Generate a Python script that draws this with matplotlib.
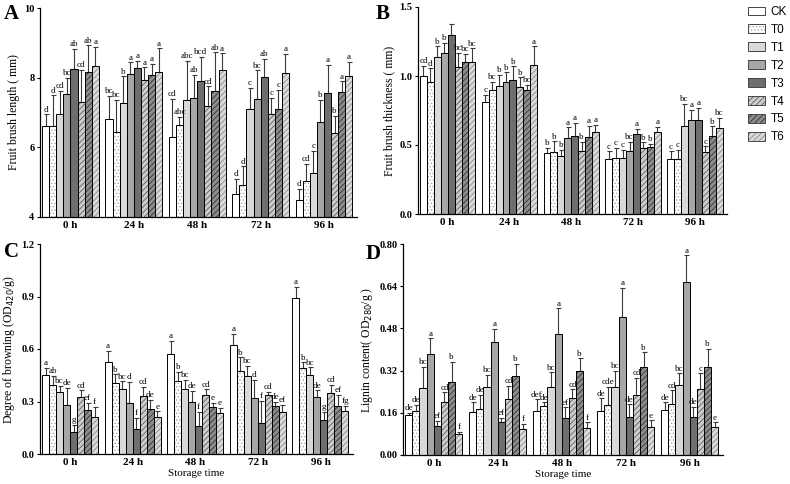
import numpy as np
import matplotlib
matplotlib.use('Agg')
from matplotlib import pyplot as plt
from matplotlib.patches import Patch

plt.rcParams['font.family'] = ['Liberation Serif', 'DejaVu Serif']
plt.rcParams['hatch.linewidth'] = 0.5

########################################
# DATA
########################################

times = ['0 h', '24 h', '48 h', '72 h', '96 h']
treatments = ['CK', 'T0', 'T1', 'T2', 'T3', 'T4', 'T5', 'T6']

# A: fruit brush length (mm), rows = storage time, cols = treatment
a_mean = [[6.61, 6.60, 6.97, 7.54, 8.26, 7.31, 8.16, 8.34],
          [6.80, 6.45, 7.27, 8.10, 8.29, 7.94, 8.08, 8.15],
          [6.31, 6.63, 7.37, 7.42, 7.90, 7.18, 7.61, 8.21],
          [4.67, 4.92, 7.09, 7.40, 8.02, 6.97, 7.09, 8.12],
          [4.49, 5.03, 5.26, 6.73, 7.57, 6.40, 7.60, 8.06]]
a_sd = [[0.34, 0.89, 0.66, 0.46, 0.56, 0.92, 0.77, 0.55],
        [0.67, 0.92, 0.77, 0.34, 0.20, 0.36, 0.31, 0.69],
        [1.08, 0.24, 1.12, 0.66, 0.70, 0.57, 1.12, 0.49],
        [0.43, 0.53, 0.62, 0.81, 0.52, 0.45, 0.57, 0.57],
        [0.32, 0.50, 0.64, 0.63, 0.79, 0.50, 0.29, 0.39]]
a_sig = [['d', 'd', 'cd', 'bc', 'ab', 'cd', 'ab', 'a'],
         ['bc', 'bc', 'b', 'a', 'a', 'a', 'a', 'a'],
         ['cd', 'abc', 'abc', 'ab', 'bcd', 'cd', 'ab', 'a'],
         ['d', 'd', 'c', 'bc', 'ab', 'c', 'c', 'a'],
         ['d', 'cd', 'c', 'b', 'a', 'b', 'a', 'a']]

# B: fruit brush thickness (mm)
b_mean = [[1.00, 0.96, 1.135, 1.165, 1.30, 1.067, 1.10, 1.10],
          [0.81, 0.90, 0.93, 0.957, 0.973, 0.92, 0.90, 1.077],
          [0.442, 0.447, 0.423, 0.55, 0.563, 0.454, 0.558, 0.592],
          [0.40, 0.406, 0.406, 0.454, 0.582, 0.478, 0.483, 0.594],
          [0.40, 0.40, 0.635, 0.684, 0.684, 0.447, 0.568, 0.626]]
b_sd = [[0.075, 0.095, 0.08, 0.075, 0.08, 0.10, 0.06, 0.10],
        [0.055, 0.06, 0.08, 0.07, 0.097, 0.07, 0.037, 0.138],
        [0.036, 0.08, 0.043, 0.078, 0.10, 0.068, 0.082, 0.053],
        [0.054, 0.072, 0.06, 0.068, 0.034, 0.041, 0.027, 0.036],
        [0.054, 0.066, 0.162, 0.072, 0.084, 0.043, 0.067, 0.07]]
b_sig = [['cd', 'd', 'b', 'b', '', 'bc', 'bc', 'bc'],
         ['c', 'bc', 'b', 'b', 'b', 'b', 'bc', 'a'],
         ['b', 'b', 'b', 'a', 'a', 'b', 'a', 'a'],
         ['c', 'c', 'c', 'bc', 'a', 'b', 'b', 'a'],
         ['c', 'c', 'bc', 'a', 'a', 'c', 'b', 'bc']]

# C: degree of browning (OD420/g)
c_mean = [[0.453, 0.396, 0.356, 0.278, 0.126, 0.323, 0.251, 0.213],
          [0.527, 0.405, 0.371, 0.291, 0.145, 0.329, 0.257, 0.213],
          [0.572, 0.417, 0.373, 0.299, 0.162, 0.339, 0.268, 0.234],
          [0.624, 0.472, 0.447, 0.321, 0.179, 0.337, 0.274, 0.238],
          [0.890, 0.490, 0.449, 0.323, 0.196, 0.348, 0.276, 0.247]]
c_sd = [[0.040, 0.051, 0.034, 0.102, 0.039, 0.040, 0.042, 0.055],
        [0.063, 0.051, 0.044, 0.122, 0.060, 0.055, 0.051, 0.030],
        [0.075, 0.051, 0.051, 0.062, 0.080, 0.030, 0.025, 0.030],
        [0.061, 0.081, 0.057, 0.103, 0.123, 0.017, 0.023, 0.043],
        [0.067, 0.033, 0.047, 0.040, 0.044, 0.048, 0.063, 0.029]]
c_sig = [['a', 'ab', 'bc', 'de', 'g', 'cd', 'ef', 'f'],
         ['a', 'b', 'bc', 'd', 'f', 'cd', 'de', 'e'],
         ['a', 'b', 'bc', 'de', 'f', 'cd', 'e', 'e'],
         ['a', 'b', 'bc', 'd', 'f', 'cd', 'de', 'ef'],
         ['a', 'b', 'bc', 'de', 'g', 'cd', 'ef', 'fg']]

# D: lignin content (OD280/g)
d_mean = [[0.152, 0.168, 0.253, 0.383, 0.110, 0.200, 0.278, 0.080],
          [0.162, 0.173, 0.257, 0.430, 0.126, 0.214, 0.300, 0.097],
          [0.167, 0.187, 0.259, 0.458, 0.142, 0.215, 0.319, 0.101],
          [0.167, 0.190, 0.259, 0.525, 0.143, 0.228, 0.332, 0.105],
          [0.169, 0.195, 0.267, 0.656, 0.145, 0.249, 0.334, 0.105]]
d_sd = [[0.008, 0.022, 0.082, 0.059, 0.019, 0.038, 0.076, 0.008],
        [0.038, 0.055, 0.046, 0.048, 0.016, 0.048, 0.045, 0.021],
        [0.044, 0.013, 0.054, 0.098, 0.039, 0.034, 0.048, 0.023],
        [0.048, 0.069, 0.060, 0.110, 0.049, 0.064, 0.057, 0.026],
        [0.031, 0.050, 0.043, 0.101, 0.038, 0.061, 0.068, 0.019]]
d_sig = [['de', 'de', 'bc', 'a', 'ef', 'cd', 'b', 'f'],
         ['de', 'de', 'bc', 'a', 'ef', 'cd', 'b', 'f'],
         ['def', 'de', 'bc', 'a', 'ef', 'cd', 'b', 'f'],
         ['de', 'cde', 'bc', 'a', 'de', 'cd', 'b', 'e'],
         ['de', 'cd', 'bc', 'a', 'de', 'c', 'b', 'e']]

# fill colour, hatch, hatch colour for each treatment
styles = [('white', '', 'black'),
          ('white', '.....', '#9a9a9a'),
          ('#d9d9d9', '', 'black'),
          ('#a6a6a6', '', 'black'),
          ('#6e6e6e', '', 'black'),
          ('#cccccc', '//////', '#4a4a4a'),
          ('#8c8c8c', '//////', '#222222'),
          ('#dadada', '//////', '#7a7a7a')]


def draw_panel(ax, mean, sd, sig, ylim, yticks, yfmt, ylabel, show_xlabel):
    mean = np.array(mean)
    sd = np.array(sd)
    x = np.arange(len(times))
    width = 0.112
    n = len(treatments)
    for j in range(n):
        fc, hatch, hc = styles[j]
        pos = x + (j - (n - 1) / 2) * width
        vals = mean[:, j]
        errs = sd[:, j]
        ax.bar(pos, vals, width, color=fc, hatch=hatch, edgecolor=hc, linewidth=0, zorder=2)
        ax.bar(pos, vals, width, fill=False, edgecolor='black', linewidth=0.7, zorder=3)
        ax.errorbar(pos, vals, yerr=[np.zeros_like(errs), errs], fmt='none',
                    ecolor='#3a3a3a', elinewidth=0.8, capsize=1.8, capthick=0.8, zorder=1)
        for k in range(len(times)):
            ax.annotate(sig[k][j], (pos[k], vals[k] + errs[k]), xytext=(0, 0.5),
                        textcoords='offset points', ha='center', va='bottom', fontsize=6.5)
    ax.set_xlim(-0.48, 4.52)
    ax.set_ylim(*ylim)
    ax.set_yticks(yticks)
    ax.set_yticklabels([yfmt.format(v) for v in yticks], fontweight='bold', fontsize=7.5)
    ax.set_xticks(x)
    ax.set_xticklabels(times, fontweight='bold', fontsize=8)
    ax.tick_params(axis='x', length=0, pad=3)
    ax.tick_params(axis='y', length=2.5, width=0.8, pad=1.5)
    for side in ['top', 'right']:
        ax.spines[side].set_visible(False)
    for side in ['left', 'bottom']:
        ax.spines[side].set_linewidth(0.9)
    ax.set_ylabel(ylabel, fontsize=8.5, labelpad=3)
    if show_xlabel:
        ax.set_xlabel('Storage time', fontsize=8, labelpad=1)


fig = plt.figure(figsize=(7.9, 4.84), dpi=100)
ax_a = fig.add_axes([40 / 790, 1 - 217 / 484, 317 / 790, 209 / 484])
ax_b = fig.add_axes([418 / 790, 1 - 214 / 484, 309 / 790, 207 / 484])
ax_c = fig.add_axes([40 / 790, 1 - 454 / 484, 313 / 790, 210 / 484])
ax_d = fig.add_axes([403 / 790, 1 - 455 / 484, 320 / 790, 211 / 484])

draw_panel(ax_a, a_mean, a_sd, a_sig, (4, 10), [4, 6, 8, 10], '{:.0f}',
           'Fruit brush length ( mm)', False)
draw_panel(ax_b, b_mean, b_sd, b_sig, (0, 1.5), [0.0, 0.5, 1.0, 1.5], '{:.1f}',
           'Fruit brush thickness ( mm)', False)
draw_panel(ax_c, c_mean, c_sd, c_sig, (0, 1.2), [0.0, 0.3, 0.6, 0.9, 1.2], '{:.1f}',
           'Degree of browning (OD$_{420}$/g)', True)
draw_panel(ax_d, d_mean, d_sd, d_sig, (0, 0.8), [0.0, 0.16, 0.32, 0.48, 0.64, 0.80], '{:.2f}',
           'Lignin content( OD$_{280}$/g )', True)

for label, (px, py) in zip('ABCD', [(4, 4), (376, 4), (4, 242), (366, 244)]):
    fig.text(px / 790, 1 - py / 484, label, fontsize=15, fontweight='bold', va='top', ha='left')

# legend
handles = []
for fc, hatch, hc in styles:
    fill_patch = Patch(facecolor=fc, hatch=hatch, edgecolor=hc, linewidth=0)
    edge_patch = Patch(fill=False, edgecolor='#444444', linewidth=0.7)
    handles.append((fill_patch, edge_patch))
fig.legend(handles, treatments, loc='upper left', bbox_to_anchor=(748 / 790, 1 - 6 / 484),
           frameon=False, prop={'family': 'Liberation Sans', 'size': 8.5},
           handlelength=1.4, handleheight=0.75, handletextpad=0.5, labelspacing=0.5,
           borderaxespad=0, borderpad=0)

fig.savefig('out.png', dpi=100, facecolor='w')
